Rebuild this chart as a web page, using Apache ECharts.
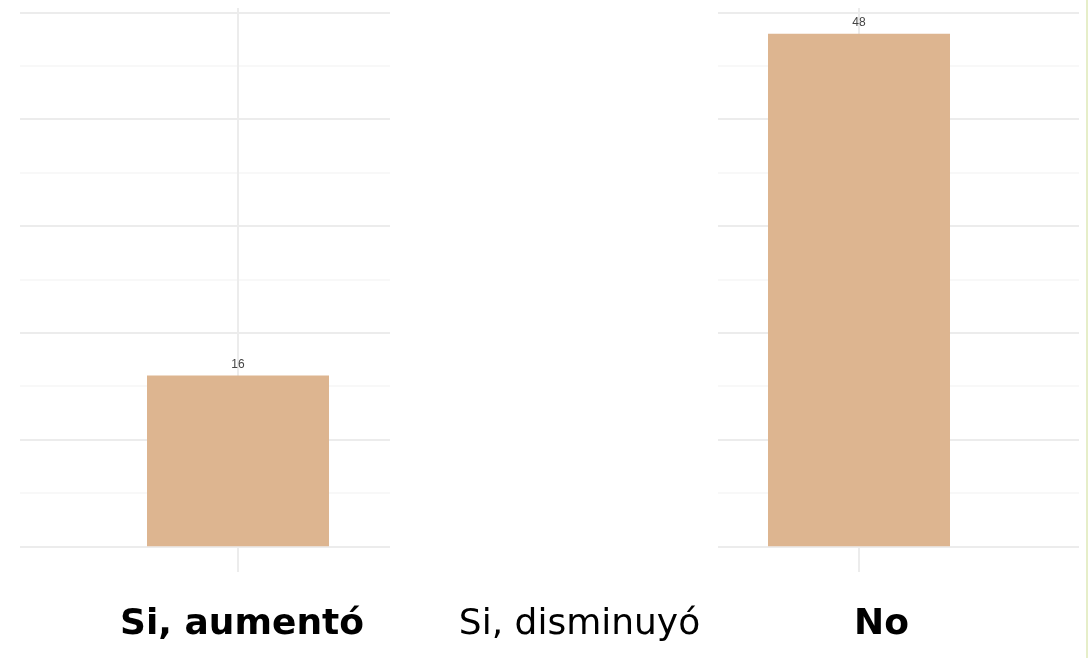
<!DOCTYPE html>
<html>
<head>
<meta charset="utf-8">
<script src="https://cdn.jsdelivr.net/npm/echarts@6/dist/echarts.min.js"></script>
<style>
html,body{margin:0;padding:0;background:#ffffff;}
#chart{width:1089px;height:658px;}
</style>
</head>
<body>
<div id="chart"></div>
<script>
const categories = ['Si, aumentó', 'Si, disminuyó', 'No'];
const counts = [16, null, 48];
const labelStyles = ['b0', 'b1', 'b2'];

const chart = echarts.init(document.getElementById('chart'), null, {renderer: 'canvas'});

const gridY = {
  type: 'value', min: 0, max: 50, interval: 10,
  axisLine: {show: false}, axisTick: {show: false}, axisLabel: {show: false},
  splitLine: {show: true, lineStyle: {color: '#ececec', width: 2}},
  minorTick: {show: false, splitNumber: 2},
  minorSplitLine: {show: true, lineStyle: {color: '#f6f6f6', width: 1.5}}
};

const option = {
  backgroundColor: '#ffffff',
  animation: false,
  grid: [
    {left: 238, right: 230, top: 8, bottom: 86},
    {left: 20, width: 370, top: 12.3, bottom: 111.6},
    {left: 718, right: 10, top: 12.3, bottom: 111.6}
  ],
  xAxis: [
    {
      gridIndex: 0, type: 'category', data: categories, boundaryGap: false,
      axisLine: {show: false}, axisTick: {show: false},
      splitLine: {show: true, interval: function (i) { return i !== 1; },
                  lineStyle: {color: '#ececec', width: 2}},
      axisLabel: {
        margin: 35,
        formatter: function (v, i) { return '{' + labelStyles[i] + '|' + v + '}'; },
        rich: {
          b0: {fontFamily: 'DejaVu Sans', fontSize: 36, fontWeight: 'bold', color: '#000', padding: [0, 0, 0, 8]},
          b1: {fontFamily: 'DejaVu Sans', fontSize: 36, fontWeight: 'normal', color: '#000', padding: [0, 0, 0, 62]},
          b2: {fontFamily: 'DejaVu Sans', fontSize: 36, fontWeight: 'bold', color: '#000', padding: [0, 0, 0, 45]}
        }
      }
    },
    {gridIndex: 1, type: 'value', min: 0, max: 1, show: false},
    {gridIndex: 2, type: 'value', min: 0, max: 1, show: false}
  ],
  yAxis: [
    {gridIndex: 0, type: 'value', min: -2.4, max: 50.4, show: false, splitLine: {show: false}},
    Object.assign({gridIndex: 1}, gridY),
    Object.assign({gridIndex: 2}, gridY)
  ],
  series: [{
    type: 'bar',
    xAxisIndex: 0, yAxisIndex: 0,
    data: counts,
    barWidth: 182,
    clip: false,
    itemStyle: {color: '#DDB590'},
    label: {
      show: true, position: 'top', distance: 5,
      fontFamily: 'Liberation Sans', fontSize: 12, color: '#444444'
    }
  }],
  graphic: [{
    type: 'rect', left: 1086, top: 0, shape: {width: 2, height: 658},
    style: {fill: '#e6eec9'}, silent: true
  }]
};
chart.setOption(option);
</script>
</body>
</html>
